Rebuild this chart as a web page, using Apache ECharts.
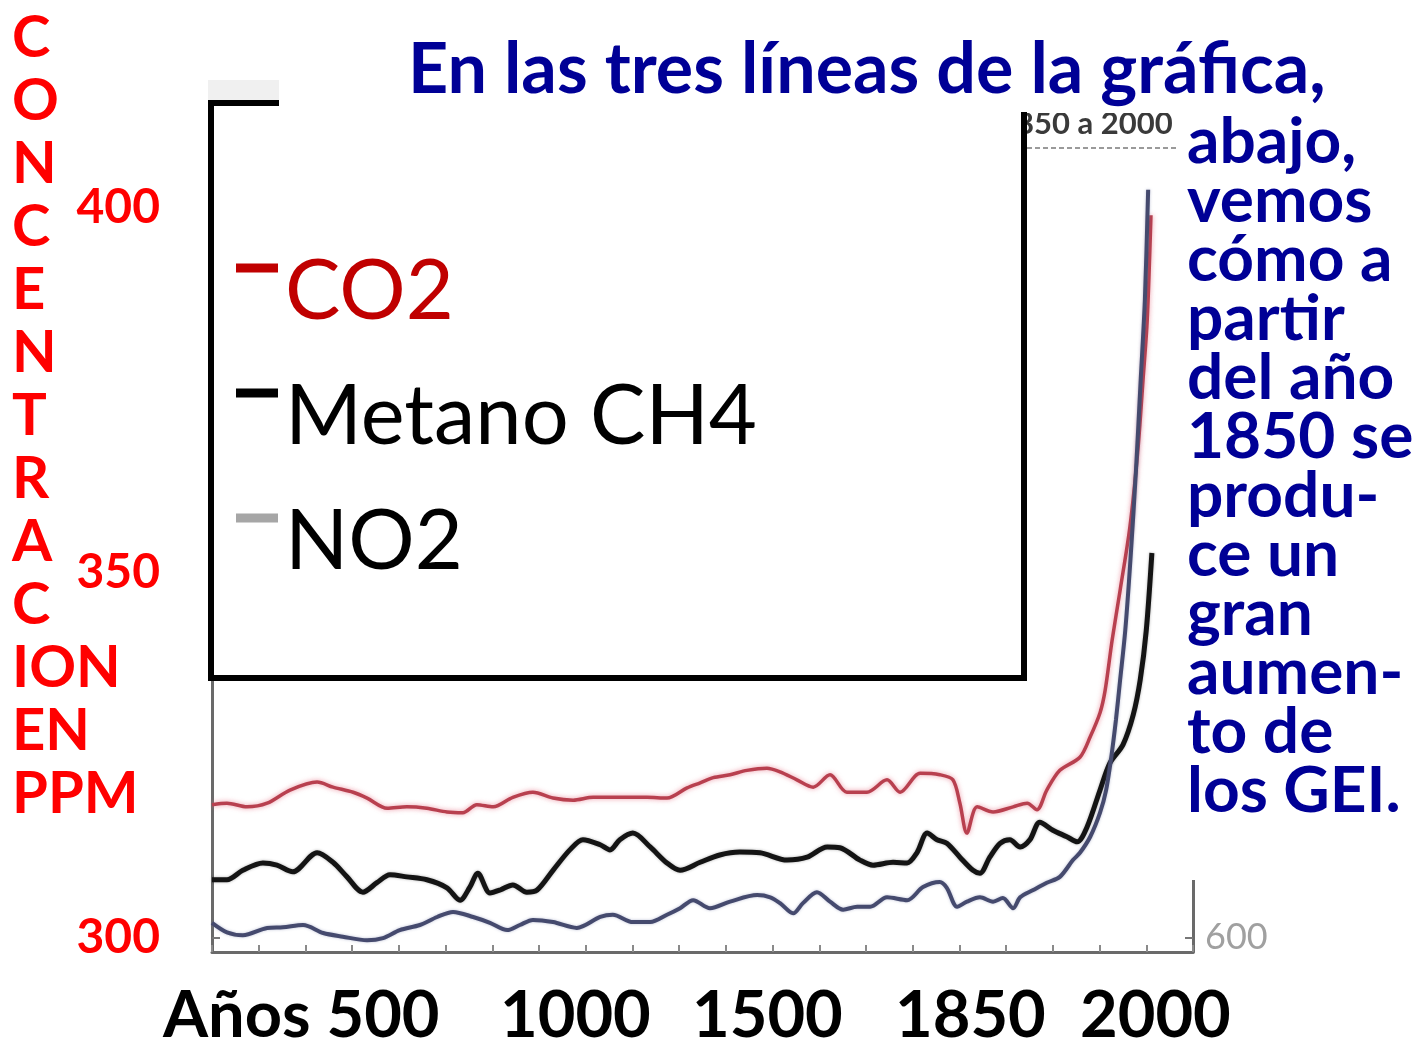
<!DOCTYPE html>
<html>
<head>
<meta charset="utf-8">
<script src="https://cdn.jsdelivr.net/npm/echarts@6/dist/echarts.min.js"></script>
<style>html,body{margin:0;padding:0;background:#fff}#c{width:1422px;height:1041px}</style>
</head>
<body>
<div id="c"></div>
<script>
// ---- data ----
const co2Years = [0,32,75,118,167,225,259,302,332,375,417,460,503,537,567,602,644,687,730,773,816,867,931,974,1017,1045,1073,1109,1145,1188,1216,1252,1287,1323,1359,1402,1445,1473,1516,1558,1586,1601,1616,1638,1672,1715,1745,1766,1787,1815,1858,1880,1901,1912,1927,1944,1965,1982,1993,2002,2010];
const co2Values = [318.2,318.4,317.9,318.4,320.2,321.3,320.6,319.9,319.1,317.7,317.9,317.7,317.2,317.1,318.2,317.9,319.2,319.9,319.1,318.8,319.2,319.2,319.2,319.1,320.5,321.2,321.9,322.3,322.9,323.2,322.7,321.6,320.6,322.3,319.9,319.9,321.6,319.9,322.5,322.3,321.6,318.4,314.3,317.9,317.2,317.9,318.4,317.5,320.2,322.9,324.7,327.5,330.8,333.9,340.8,347.6,356.3,366.8,376.4,384.6,399.0];

const ch4Years = [0,32,66,109,139,173,225,259,289,323,353,381,417,460,503,531,552,569,595,617,644,674,696,730,766,794,831,852,873,901,938,974,1002,1045,1087,1130,1173,1231,1274,1317,1344,1387,1415,1458,1488,1509,1531,1552,1573,1601,1629,1644,1665,1687,1708,1730,1751,1772,1800,1830,1852,1873,1901,1922,1950,1972,1987,2000,2012];
const ch4Values = [307.9,307.9,309.2,310.2,309.9,309.0,311.6,310.3,308.3,306.2,307.5,308.6,308.3,307.9,306.8,305.1,306.9,308.8,306.1,306.5,307.2,306.2,306.5,309.2,312.0,313.4,312.7,312.0,313.4,314.3,312.4,310.2,309.2,310.3,311.3,311.7,311.6,310.6,311.0,312.4,312.3,310.6,309.9,310.3,310.2,311.6,314.3,313.4,312.9,311.0,309.2,308.8,311.0,312.9,313.4,312.4,313.4,315.8,314.7,313.8,313.1,315.1,320.2,323.9,326.4,330.5,335.3,342.1,352.7];

const no2Years = [0,32,66,118,152,195,238,280,332,366,402,445,482,516,559,595,632,659,687,730,781,831,858,901,938,974,1002,1030,1066,1109,1167,1195,1216,1244,1265,1295,1323,1351,1381,1409,1445,1488,1522,1558,1573,1595,1616,1644,1672,1693,1715,1730,1758,1787,1815,1843,1858,1880,1901,1914,1925,1935,1944,1955,1966,1978,1988,1997,2004];
const no2Values = [302.0,300.7,300.3,301.3,301.4,301.7,300.6,300.1,299.6,299.9,301.0,301.7,302.8,303.5,302.8,302.0,301.0,301.7,302.4,302.1,301.3,302.8,303.1,302.1,302.1,303.1,304.0,305.1,304.0,304.9,305.8,305.5,304.7,303.3,304.7,306.2,304.9,303.8,304.2,304.2,305.5,305.1,306.9,307.6,306.8,304.2,304.9,305.5,304.9,305.4,304.0,305.5,306.5,307.5,308.3,310.6,311.6,313.8,317.1,320.2,324.7,329.8,335.3,342.1,351.7,364.1,376.4,387.4,402.5];

const seriesNames = ['CO2', 'Metano CH4', 'NO2'];
const yTickLabels = [300, 350, 400];
const rightTickLabels = [600];
const yearLabels = ['Años 500', '1000', '1500', '1850', '2000'];
const yAxisTitleLines = ['C','O','N','C','E','N','T','R','A','C','ION','EN','PPM'];
const titleText = 'En las tres líneas de la gráfica,';
const sideTextLines = ['abajo,','vemos','cómo a','partir','del año','1850 se','produ-','ce un','gran','aumen-','to de','los GEI.'];
const fragmentText = '1850 a 2000';

// ---- build ----
const zip = (xs, ys) => xs.map((x, i) => [x, ys[i]]);
const chart = echarts.init(document.getElementById('c'), null, {renderer: 'canvas'});

const yearLabelX = [163, 500, 692, 895, 1080];
const graphics = [
  // faint scan texture above legend box corner
  {type: 'rect', z: 3, shape: {x: 208, y: 80, width: 72, height: 20}, style: {fill: '#f0f0f0'}},
  // fragment of original chart heading (top right of box)
  {type: 'text', z: 2.5, x: 998, y: 124, style: {text: fragmentText, font: 'bold 31px Lato', fill: '#3a3a3a', verticalAlign: 'middle', align: 'left'}},
  {type: 'line', z: 2.5, shape: {x1: 1027, y1: 148, x2: 1178, y2: 148}, style: {stroke: '#9a9a9a', lineWidth: 2, lineDash: [5, 3]}},
  // legend box white interior
  {type: 'rect', z: 3, shape: {x: 208, y: 100, width: 819, height: 581}, style: {fill: '#fff'}},
  // white band over the top (title area)
  {type: 'rect', z: 4, shape: {x: 279, y: 0, width: 900, height: 113}, style: {fill: '#fff'}},
  // right white text panel
  {type: 'rect', z: 4, shape: {x: 1178, y: 100, width: 244, height: 780}, style: {fill: '#fff'}},
  // legend box borders
  {type: 'line', z: 5, shape: {x1: 211, y1: 100, x2: 211, y2: 681}, style: {stroke: '#000', lineWidth: 6}},
  {type: 'line', z: 5, shape: {x1: 208, y1: 103, x2: 279, y2: 103}, style: {stroke: '#000', lineWidth: 6}},
  {type: 'line', z: 5, shape: {x1: 1024, y1: 112, x2: 1024, y2: 681}, style: {stroke: '#000', lineWidth: 6}},
  {type: 'line', z: 5, shape: {x1: 208, y1: 678, x2: 1027, y2: 678}, style: {stroke: '#000', lineWidth: 6}},
  // vertical axis title
  {type: 'text', z: 5, x: 12, y: 7, style: {text: yAxisTitleLines.join('\n'), font: 'bold 58px Lato', lineHeight: 63, fill: '#ff0000', align: 'left', verticalAlign: 'top'}}
];
yearLabels.forEach((t, i) => {
  graphics.push({type: 'text', z: 5, x: yearLabelX[i], y: 1016, style: {text: t, font: 'bold 65px Lato', fill: '#000', align: 'left', verticalAlign: 'middle'}});
});

const option = {
  backgroundColor: '#fff',
  animation: false,
  title: [
    {text: titleText, left: 408, top: 30, padding: 0, z: 6,
     textStyle: {fontFamily: 'Lato', fontWeight: 'bold', fontSize: 70, color: '#000096', lineHeight: 80}},
    {text: sideTextLines.join('\n'), left: 1187, top: 113, padding: 0, z: 6,
     textStyle: {fontFamily: 'Lato', fontWeight: 'bold', fontSize: 64, color: '#000096', lineHeight: 59}}
  ],
  legend: {
    orient: 'vertical', left: 236, top: 242, z: 6, padding: 0,
    itemWidth: 42, itemHeight: 60, itemGap: 25,
    icon: 'path://M0,3h42v9h-42z M0,59.9h0.05v0.05h-0.05z',
    textStyle: {fontFamily: 'Lato', fontSize: 83, lineHeight: 100, color: '#000', padding: [0, 0, 0, 2]},
    data: [
      {name: seriesNames[0], itemStyle: {color: '#c00000', borderWidth: 0}, textStyle: {color: '#c00000'}},
      {name: seriesNames[1], itemStyle: {color: '#000', borderWidth: 0}},
      {name: seriesNames[2], itemStyle: {color: '#a6a6a6', borderWidth: 0}}
    ]
  },
  grid: {left: 212, right: 229, top: 135, bottom: 89},
  xAxis: {
    type: 'value', min: 0, max: 2100, interval: 100,
    axisLine: {lineStyle: {color: '#6a6a6a', width: 3}},
    axisTick: {show: true, inside: true, length: 7, lineStyle: {color: '#8a8a8a', width: 2}},
    axisLabel: {show: false}, splitLine: {show: false}
  },
  yAxis: [
    {
      type: 'value', min: 298, max: 410,
      axisLine: {show: true, lineStyle: {color: '#6a6a6a', width: 3}},
      axisTick: {show: true, inside: true, length: 8, customValues: yTickLabels, lineStyle: {color: '#777', width: 2}},
      axisLabel: {show: true, customValues: yTickLabels, margin: 52, fontFamily: 'Lato', fontWeight: 'bold', fontSize: 48, color: '#ff0000'},
      splitLine: {show: false}
    },
    {
      type: 'value', position: 'right', min: 598, max: 710,
      axisLine: {show: true, lineStyle: {color: '#6a6a6a', width: 3}},
      axisTick: {show: true, inside: true, length: 8, customValues: rightTickLabels, lineStyle: {color: '#777', width: 2}},
      axisLabel: {show: true, customValues: rightTickLabels, margin: 12, fontFamily: 'Lato', fontSize: 36, color: '#a0a0a0'},
      splitLine: {show: false}
    }
  ],
  series: [
    {name: seriesNames[0], type: 'line', data: zip(co2Years, co2Values), showSymbol: false, smooth: 0.3,
     lineStyle: {color: '#b8404f', width: 3.5, shadowColor: 'rgba(230,110,130,0.7)', shadowBlur: 5}, itemStyle: {color: '#b8404f'}},
    {name: seriesNames[1], type: 'line', data: zip(ch4Years, ch4Values), showSymbol: false, smooth: 0.3,
     lineStyle: {color: '#141414', width: 5, shadowColor: 'rgba(0,0,0,0.3)', shadowBlur: 3}, itemStyle: {color: '#141414'}},
    {name: seriesNames[2], type: 'line', data: zip(no2Years, no2Values), showSymbol: false, smooth: 0.3,
     lineStyle: {color: '#454a6e', width: 4, shadowColor: 'rgba(90,100,150,0.4)', shadowBlur: 3}, itemStyle: {color: '#454a6e'}}
  ],
  graphic: graphics
};
chart.setOption(option);
</script>
</body>
</html>
